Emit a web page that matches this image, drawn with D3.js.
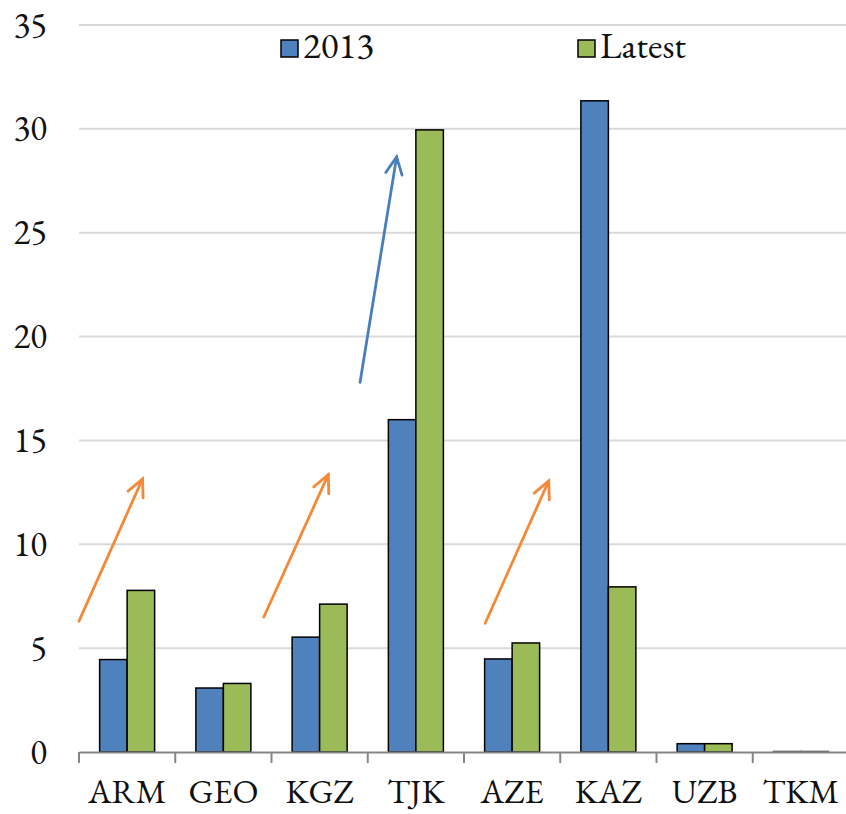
<!DOCTYPE html>
<html>
<head>
<meta charset="utf-8">
<script src="https://cdn.jsdelivr.net/npm/d3@7"></script>
<style>
  body { margin: 0; background: #fff; }
</style>
</head>
<body>
<div id="chart"></div>
<script>
const categories = ["ARM", "GEO", "KGZ", "TJK", "AZE", "KAZ", "UZB", "TKM"];
const values2013 = [4.45, 3.08, 5.53, 16.0, 4.48, 31.35, 0.4, 0.03];
const valuesLatest = [7.78, 3.3, 7.12, 29.95, 5.25, 7.95, 0.4, 0.03];
const seriesNames = ["2013", "Latest"];
const yTicks = [0, 5, 10, 15, 20, 25, 30, 35];

// arrows: [category, band fraction, value] start -> end
const arrows = [
  { from: ["ARM", 0.0, 6.3], to: ["ARM", 0.66, 13.15], color: "#f5893a" },
  { from: ["KGZ", -0.08, 6.5], to: ["KGZ", 0.59, 13.35], color: "#f5893a" },
  { from: ["AZE", 0.22, 6.2], to: ["AZE", 0.88, 13.05], color: "#f5893a" },
  { from: ["TJK", -0.08, 17.8], to: ["TJK", 0.3, 28.65], color: "#4a7ebb" }
];

const width = 846, height = 814;
const margin = { top: 25, right: -3, bottom: 62, left: 79 };
const font = "'EB Garamond', 'Liberation Serif', serif";
const fontSize = "34px";

const svg = d3.select("#chart").append("svg")
  .attr("width", width)
  .attr("height", height);

const x = d3.scaleBand()
  .domain(categories)
  .range([margin.left, width - margin.right]);

const xs = d3.scaleBand()
  .domain(seriesNames)
  .range([0, x.bandwidth()])
  .paddingInner(0)
  .paddingOuter(0.75);

const y = d3.scaleLinear()
  .domain([0, 35])
  .range([height - margin.bottom, margin.top]);

const colors = { "2013": "#4f81bd", "Latest": "#9bbb59" };

// gridlines
svg.append("g")
  .selectAll("line")
  .data(yTicks.filter(d => d > 0))
  .enter().append("line")
  .attr("x1", margin.left)
  .attr("x2", width)
  .attr("y1", d => y(d))
  .attr("y2", d => y(d))
  .attr("stroke", "#d9d9d9")
  .attr("stroke-width", 2);

// y labels
svg.append("g")
  .selectAll("text")
  .data(yTicks)
  .enter().append("text")
  .attr("x", 47)
  .attr("y", d => y(d))
  .attr("dy", "0.33em")
  .attr("text-anchor", "end")
  .style("font-family", font)
  .style("font-size", "35px")
  .attr("fill", "#111")
  .text(d => d);

// bars
const rows = categories.map((c, i) => ({ cat: c, vals: [values2013[i], valuesLatest[i]] }));
const groups = svg.append("g")
  .selectAll("g")
  .data(rows)
  .enter().append("g")
  .attr("transform", d => `translate(${x(d.cat)},0)`);

groups.selectAll("rect")
  .data(d => seriesNames.map((s, j) => ({ s, v: d.vals[j] })))
  .enter().append("rect")
  .attr("x", d => xs(d.s))
  .attr("width", xs.bandwidth())
  .attr("y", d => y(d.v))
  .attr("height", d => y(0) - y(d.v))
  .attr("fill", d => colors[d.s])
  .attr("stroke", d => d.v > 0.1 ? "#000" : "#666")
  .attr("stroke-width", 1.5);

// x axis
const xAxis = d3.axisBottom(x).tickSize(0).tickPadding(27);
const gx = svg.append("g")
  .attr("transform", `translate(0,${y(0)})`)
  .call(xAxis);
gx.select(".domain").attr("stroke", "#868686").attr("stroke-width", 2);
gx.selectAll("text")
  .style("font-family", font)
  .style("font-size", fontSize)
  .attr("fill", "#111");

// category separators
svg.append("g")
  .selectAll("line")
  .data(categories)
  .enter().append("line")
  .attr("x1", d => x(d))
  .attr("x2", d => x(d))
  .attr("y1", y(0))
  .attr("y2", y(0) + 11)
  .attr("stroke", "#868686")
  .attr("stroke-width", 2);

// arrows
const px = p => x(p[0]) + p[1] * x.bandwidth();
arrows.forEach(a => {
  const x1 = px(a.from), y1 = y(a.from[2]);
  const x2 = px(a.to), y2 = y(a.to[2]);
  const ang = Math.atan2(y2 - y1, x2 - x1);
  const len = 19, spread = 0.45;
  const g = svg.append("g").attr("stroke", a.color).attr("stroke-width", 2.8).attr("fill", "none")
    .attr("stroke-linecap", "round");
  g.append("line").attr("x1", x1).attr("y1", y1).attr("x2", x2).attr("y2", y2);
  g.append("path").attr("d",
    `M${x2 - len * Math.cos(ang - spread)},${y2 - len * Math.sin(ang - spread)}` +
    `L${x2},${y2}` +
    `L${x2 - len * Math.cos(ang + spread)},${y2 - len * Math.sin(ang + spread)}`);
});

// legend
const legendX = [281, 578];
const legend = svg.append("g")
  .selectAll("g")
  .data(seriesNames)
  .enter().append("g")
  .attr("transform", (d, i) => `translate(${legendX[i]},40)`);
legend.append("rect")
  .attr("width", 17).attr("height", 17)
  .attr("fill", d => colors[d])
  .attr("stroke", "#000").attr("stroke-width", 1.5);
legend.append("text")
  .attr("x", 22).attr("y", 18)
  .style("font-family", font)
  .style("font-size", "37px")
  .attr("fill", "#111")
  .text(d => d);
</script>
</body>
</html>
